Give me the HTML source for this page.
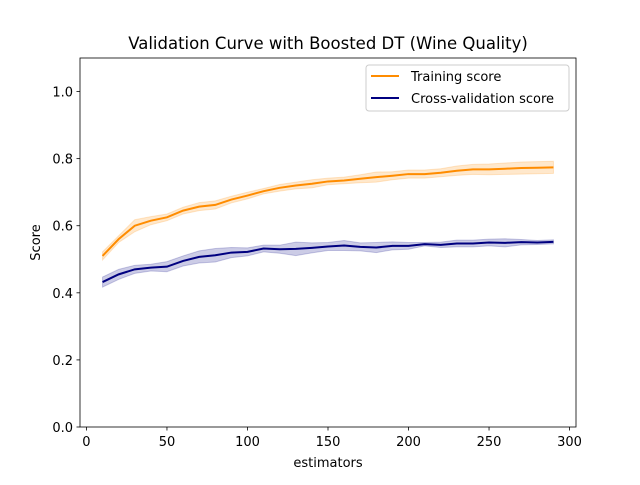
<!DOCTYPE html>
<html><head><meta charset="utf-8"><style>
body{margin:0;background:#fff;}
svg text{font-family:"DejaVu Sans","Liberation Sans",sans-serif;fill:#000;}
</style></head><body>
<svg id="chart" width="640" height="480" viewBox="0 0 640 480">
<rect width="640" height="480" fill="#fff"/>
<text x="328" y="49" font-size="16.5" text-anchor="middle">Validation Curve with Boosted DT (Wine Quality)</text>
<g id="marks"></g>
<g id="axes"></g>
</svg>
<script>
const estimators=[10,20,30,40,50,60,70,80,90,100,110,120,130,140,150,160,170,180,190,200,210,220,230,240,250,260,270,280,290];
const trainMean=[0.51,0.56,0.60,0.615,0.625,0.645,0.657,0.662,0.678,0.69,0.703,0.713,0.72,0.725,0.732,0.735,0.74,0.745,0.749,0.754,0.754,0.758,0.764,0.768,0.768,0.77,0.772,0.773,0.774];
const trainStd=[0.012,0.01,0.018,0.012,0.01,0.01,0.012,0.012,0.01,0.01,0.008,0.01,0.01,0.012,0.01,0.01,0.012,0.015,0.012,0.012,0.012,0.012,0.014,0.015,0.016,0.017,0.018,0.018,0.018];
const cvMean=[0.432,0.455,0.47,0.475,0.478,0.495,0.507,0.512,0.52,0.522,0.532,0.53,0.531,0.534,0.538,0.541,0.537,0.535,0.54,0.54,0.545,0.543,0.547,0.547,0.55,0.549,0.551,0.55,0.552];
const cvStd=[0.015,0.015,0.012,0.01,0.015,0.015,0.018,0.02,0.015,0.012,0.01,0.012,0.02,0.015,0.012,0.015,0.012,0.015,0.012,0.01,0.005,0.008,0.01,0.01,0.01,0.012,0.008,0.006,0.006];
const xTicks=[0,50,100,150,200,250,300];
const yTicks=[0.0,0.2,0.4,0.6,0.8,1.0];
const L=80,R=576,T=58,B=427,xmin=-4,xmax=304,ymin=0,ymax=1.1;
const X=v=>L+(v-xmin)/(xmax-xmin)*(R-L);
const Y=v=>B-(v-ymin)/(ymax-ymin)*(B-T);
const NS='http://www.w3.org/2000/svg';
const marks=document.getElementById('marks'),axes=document.getElementById('axes');
function mk(tag,attrs,parent){const e=document.createElementNS(NS,tag);for(const k in attrs)e.setAttribute(k,attrs[k]);parent.appendChild(e);return e;}
function band(m,s,color,name){
  let d='';estimators.forEach((x,i)=>{d+=(i?'L':'M')+X(x)+','+Y(m[i]+s[i]);});
  for(let i=estimators.length-1;i>=0;i--)d+='L'+X(estimators[i])+','+Y(m[i]-s[i]);
  const p=mk('path',{d:d+'Z',fill:color,'fill-opacity':0.2,stroke:color,'stroke-opacity':0.2},marks);
  
  
}
function line(m,color,name){
  const p=mk('polyline',{points:estimators.map((x,i)=>X(x)+','+Y(m[i])).join(' '),fill:'none',stroke:color,'stroke-width':2},marks);
  
  
}
band(trainMean,trainStd,'darkorange','training-score-band');
line(trainMean,'darkorange','training-score-line');
band(cvMean,cvStd,'navy','cv-score-band');
line(cvMean,'navy','cv-score-line');
const frame=mk('rect',{x:L,y:T,width:R-L,height:B-T,fill:'none',stroke:'#000','stroke-width':0.8},axes);


xTicks.forEach(v=>{const x=X(v);mk('line',{x1:x,x2:x,y1:B,y2:B+3.5,stroke:'#000','stroke-width':0.8},axes);
  const t=mk('text',{x:x,y:B+19,'font-size':13,'text-anchor':'middle'},axes);t.textContent=v;
  
  });
yTicks.forEach(v=>{const y=Y(v);mk('line',{x1:L-3.5,x2:L,y1:y,y2:y,stroke:'#000','stroke-width':0.8},axes);
  const t=mk('text',{x:L-7,y:y+5,'font-size':13,'text-anchor':'end'},axes);t.textContent=v.toFixed(1);
  
  });
const xl=mk('text',{x:(L+R)/2,y:467,'font-size':13,'text-anchor':'middle'},axes);xl.textContent='estimators';


const yl=mk('text',{x:0,y:0,'font-size':13,'text-anchor':'middle',transform:'translate(40,'+((T+B)/2)+') rotate(-90)'},axes);yl.textContent='Score';


const lg=mk('g',{},axes);


mk('rect',{x:366,y:65,width:203,height:46,rx:3,fill:'#fff','fill-opacity':0.8,stroke:'#ccc'},lg);
[['darkorange','Training score',76],['navy','Cross-validation score',98]].forEach(([c,s,y])=>{
  mk('line',{x1:371,x2:399,y1:y,y2:y,stroke:c,'stroke-width':2},lg);
  const t=mk('text',{x:411,y:y+5,'font-size':13},lg);t.textContent=s;
  
  
});
</script>
</body></html>
